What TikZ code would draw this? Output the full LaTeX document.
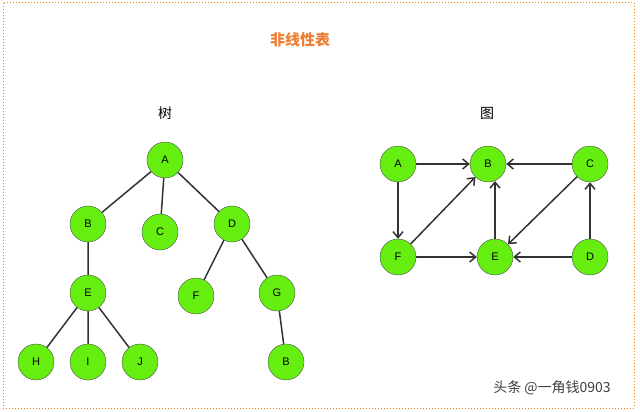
\documentclass[tikz,border=0pt]{standalone}
\usepackage{fontspec}
\setmainfont{Liberation Sans}
\newfontfamily\cjk{Noto Sans CJK SC}
\usetikzlibrary{arrows.meta}
\begin{document}
\begin{tikzpicture}[x=1pt,y=-1pt,
  nd/.style={circle,draw=black!70,fill={rgb,255:red,102;green,238;blue,17},minimum size=36pt,inner sep=0,font=\fontsize{11}{13}\selectfont},
  ln/.style={draw=black!80,line width=1.5pt},
  ar/.style={ln,-{Straight Barb[length=6pt,width=10pt]}}]
\useasboundingbox (0,0) rectangle (640,412);
\draw[orange!80!brown,dotted,line width=1pt] (3,3) rectangle (634,408);
\node[font=\cjk\bfseries\fontsize{15}{17}\selectfont,text={rgb,255:red,237;green,125;blue,49}] (t) at (300,40) {非线性表};
\node[font=\cjk\fontsize{14}{16}\selectfont] (t1) at (165,113) {树};
\node[font=\cjk\fontsize{14}{16}\selectfont] (t2) at (487,113) {图};
\node[nd] (A) at (165,160) {A};
\node[nd] (B) at (88,224) {B};
\node[nd] (C) at (160,232) {C};
\node[nd] (D) at (232,224) {D};
\node[nd] (E) at (88,293) {E};
\node[nd] (F) at (196,296) {F};
\node[nd] (G) at (277,293) {G};
\node[nd] (H) at (36,362) {H};
\node[nd] (I) at (88,362) {I};
\node[nd] (J) at (140,362) {J};
\node[nd] (B2) at (286,362) {B};
\draw[ln] (A)--(B) (A)--(C) (A)--(D) (B)--(E) (D)--(F) (D)--(G) (E)--(H) (E)--(I) (E)--(J) (G)--(B2);
\node[nd] (gA) at (398,164) {A};
\node[nd] (gB) at (488,164) {B};
\node[nd] (gC) at (590,164) {C};
\node[nd] (gF) at (398,257) {F};
\node[nd] (gE) at (495,257) {E};
\node[nd] (gD) at (590,257) {D};
\coordinate (eb) at (495,181);
\draw[ar] (gA)--(gB);
\draw[ar] (gC)--(gB);
\draw[ar] (gA)--(gF);
\draw[ar] (gF)--(gB);
\draw[ar] (gF)--(gE);
\draw[ar] (gE)--(eb);
\draw[ar] (gC)--(gE);
\draw[ar] (gD)--(gE);
\draw[ar] (gD)--(gC);
\node[font=\cjk\fontsize{14}{16}\selectfont,text=black!75] (w) at (552,388) {头条 @一角钱0903};
\end{tikzpicture}
\end{document}
